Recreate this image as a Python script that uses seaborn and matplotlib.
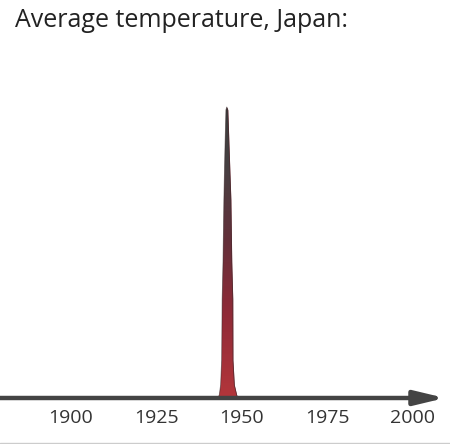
import numpy as np
import matplotlib
matplotlib.use("Agg")
import matplotlib.pyplot as plt
from matplotlib.colors import LinearSegmentedColormap
import seaborn as sns

title = "Average temperature, Japan:"
tick_years = [1900, 1925, 1950, 1975, 2000]
tick_labels = ["1900", "1925", "1950", "1975", "2000"]

# spike outline (year, relative temperature)
years = [1943.0, 1943.5, 1943.9, 1944.2, 1944.35, 1944.6, 1944.85, 1945.15, 1945.45,
         1945.7, 1946.0, 1946.4, 1946.9, 1947.15, 1947.45, 1947.5, 1947.9, 1948.6, 1949.0]
temps = [0.0, 1.0, 4.5, 13.0, 34.0, 47.0, 68.0, 85.0, 99.0,
         100.0, 99.0, 85.0, 68.0, 47.0, 34.0, 13.0, 4.5, 1.0, 0.0]

sns.set_theme(style="white")
plt.rcParams["font.family"] = ["Open Sans", "DejaVu Sans"]

fig = plt.figure(figsize=(4.5, 4.44), dpi=100)
ax = fig.add_axes([0, 0, 1, 1])
ax.set_facecolor("white")

px_year = 3.42
x0 = 1900 - 70.5 / px_year
u = 100 / 291.0

# spike with vertical gradient
poly = ax.fill_between(years, 0, temps, color="#7a2a36", lw=0, zorder=2)
cmap = LinearSegmentedColormap.from_list(
    "spike", [(0.0, "#b3363b"), (0.3, "#8e2a37"), (0.55, "#62303a"),
              (0.8, "#464042"), (1.0, "#3c3c3c")])
grad = np.linspace(0, 1, 256).reshape(-1, 1)
im = ax.imshow(grad, cmap=cmap, origin="lower", aspect="auto",
               extent=[min(years), max(years), 0, max(temps)], zorder=3)
im.set_clip_path(poly.get_paths()[0], transform=ax.transData)
sns.lineplot(x=years, y=temps, sort=False, color="#3a2a2c", lw=0.6,
             alpha=0.6, ax=ax, zorder=4)
ax.set_xlim(x0, x0 + 450 / px_year)
ax.set_ylim(-46 * u, (444 - 46) * u)

# axis with arrow
ax.annotate("", xy=(x0 + 445 / px_year, 0), xytext=(x0 - 2, 0),
            arrowprops=dict(arrowstyle="-|>,head_length=1.5,head_width=0.36",
                            lw=3.2, color="#444444", shrinkA=0, shrinkB=0),
            zorder=5)

for s in ax.spines.values():
    s.set_visible(False)
ax.spines["bottom"].set_position(("data", 0))
ax.set_xticks(tick_years)
ax.set_xticklabels(tick_labels, fontsize=14, color="#333333")
ax.tick_params(axis="x", length=0, pad=8)
ax.set_yticks([])
ax.set_xlabel("")
ax.set_ylabel("")

fig.text(15 / 450, 1 - 27 / 444, title, fontsize=18, color="#222222",
         ha="left", va="baseline")
fig.add_artist(plt.Line2D([0, 1], [1.5 / 444, 1.5 / 444], color="#cccccc", lw=1))

fig.savefig("out.png", dpi=100, facecolor="white")
